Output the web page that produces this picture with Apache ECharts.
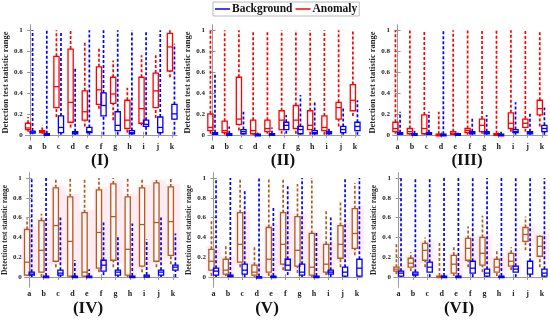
<!DOCTYPE html>
<html><head><meta charset="utf-8">
<script src="https://cdn.jsdelivr.net/npm/echarts@6/dist/echarts.min.js"></script>
<style>html,body{margin:0;padding:0;background:#fff}#c{width:550px;height:321px}</style>
</head><body><div id="c"></div>
<script>
const categories = ['a','b','c','d','e','f','g','h','i','j','k'];
const yTickValues = [0, 0.2, 0.4, 0.6, 0.8, 1];
const panelTitles = ['(I)','(II)','(III)','(IV)','(V)','(VI)'];
// each entry: [min, q1, median, q3, max]
const anomalyI = [[0.03,0.05,0.065,0.11,0.17],[0.01,0.02,0.03,0.04,0.09],[0.17,0.26,0.46,0.75,1.0],[0.07,0.12,0.31,0.82,1.0],[0.08,0.14,0.22,0.42,0.89],[0.25,0.29,0.43,0.65,0.84],[0.14,0.30,0.39,0.55,0.71],[0.02,0.06,0.14,0.33,0.45],[0.09,0.11,0.25,0.55,0.76],[0.16,0.26,0.42,0.59,0.76],[0.55,0.61,0.84,0.97,1.0]];
const backgroundI = [[0.005,0.015,0.025,0.035,1.0],[0,0.005,0.007,0.01,1.0],[0,0.02,0.07,0.18,0.98],[0,0.01,0.02,0.03,0.64],[0,0.02,0.03,0.07,1.0],[0,0.18,0.28,0.40,1.0],[0,0.04,0.09,0.22,1.0],[0,0.01,0.02,0.04,1.0],[0,0.08,0.10,0.14,1.0],[0,0.02,0.07,0.17,1.0],[0,0.15,0.20,0.29,0.87]];
const anomalyII = [[0.01,0.04,0.07,0.20,1.0],[0,0.02,0.04,0.13,1.0],[0.04,0.10,0.15,0.55,1.0],[0,0.01,0.04,0.14,1.0],[0.01,0.03,0.06,0.14,1.0],[0.01,0.05,0.14,0.23,1.0],[0.01,0.06,0.14,0.28,1.0],[0,0.05,0.09,0.23,1.0],[0,0.04,0.07,0.18,1.0],[0.08,0.15,0.26,0.31,1.0],[0.18,0.23,0.33,0.48,1.0]];
const backgroundII = [[0,0.005,0.01,0.02,0.58],[0,0,0.005,0.01,0.08],[0,0.01,0.03,0.05,0.22],[0,0,0.002,0.005,0.02],[0,0,0.005,0.01,0.07],[0.01,0.05,0.09,0.12,0.19],[0,0.01,0.05,0.08,0.38],[0,0.01,0.02,0.04,0.31],[0,0.01,0.02,0.03,0.07],[0,0.02,0.05,0.08,0.26],[0,0.04,0.08,0.12,0.33]];
const anomalyIII = [[0.01,0.03,0.06,0.12,1.0],[0,0.01,0.03,0.06,1.0],[0,0.01,0.06,0.19,1.0],[0,0,0.002,0.005,0.22],[0,0.005,0.015,0.03,1.0],[0,0.02,0.04,0.06,1.0],[0.01,0.03,0.09,0.15,1.0],[0,0,0.005,0.01,1.0],[0.03,0.06,0.11,0.21,1.0],[0.03,0.07,0.11,0.15,1.0],[0.08,0.19,0.25,0.33,1.0]];
const backgroundIII = [[0,0.005,0.01,0.02,0.22],[0,0,0.005,0.01,0.06],[0,0.005,0.01,0.02,0.22],[0,0,0.002,0.005,1.0],[0,0,0.005,0.01,0.02],[0,0.01,0.02,0.03,0.17],[0,0.01,0.02,0.03,0.19],[0,0,0.002,0.005,0.03],[0,0.02,0.03,0.05,0.31],[0,0.01,0.02,0.03,0.20],[0,0.03,0.06,0.09,0.26]];
const anomalyIV = [[0.01,0.02,0.15,0.48,0.59],[0,0.05,0.27,0.57,0.64],[0.10,0.16,0.52,0.90,1.0],[0,0.01,0.36,0.81,1.0],[0,0.01,0.05,0.65,1.0],[0.05,0.09,0.45,0.88,1.0],[0.10,0.17,0.61,0.94,1.0],[0,0.02,0.28,0.81,1.0],[0.05,0.11,0.53,0.90,1.0],[0.10,0.16,0.55,0.95,1.0],[0.13,0.22,0.56,0.91,1.0]];
const backgroundIV = [[0,0.02,0.03,0.05,1.0],[0,0,0.005,0.01,1.0],[0,0.02,0.04,0.07,0.60],[0,0,0.005,0.01,0.17],[0,0,0.005,0.01,0.08],[0.02,0.06,0.12,0.17,0.55],[0,0.02,0.05,0.07,0.41],[0,0,0.005,0.01,0.54],[0,0,0.01,0.02,0.38],[0,0.02,0.05,0.07,0.60],[0,0.07,0.10,0.12,0.44]];
const anomalyV = [[0.01,0.07,0.16,0.28,0.58],[0.01,0.03,0.07,0.18,0.33],[0.10,0.15,0.33,0.65,1.0],[0,0.02,0.05,0.12,0.31],[0.01,0.05,0.18,0.50,1.0],[0.07,0.13,0.33,0.65,1.0],[0.04,0.11,0.27,0.61,0.94],[0,0.02,0.10,0.44,1.0],[0.02,0.05,0.13,0.33,0.68],[0.10,0.19,0.33,0.52,0.77],[0.22,0.29,0.44,0.69,0.95]];
const backgroundV = [[0,0.02,0.06,0.09,1.0],[0,0.01,0.015,0.02,1.0],[0,0.03,0.07,0.13,0.88],[0,0,0.002,0.005,1.0],[0,0,0.005,0.01,0.70],[0.02,0.07,0.12,0.18,0.92],[0,0.02,0.05,0.13,1.0],[0,0,0.005,0.01,0.46],[0,0.03,0.05,0.07,0.60],[0,0.01,0.05,0.10,1.0],[0,0.01,0.09,0.18,1.0]];
const anomalyVI = [[0.03,0.06,0.08,0.10,0.35],[0.06,0.10,0.14,0.19,0.25],[0.10,0.17,0.27,0.34,0.40],[0,0,0.005,0.01,0.35],[0.01,0.04,0.13,0.22,0.32],[0.10,0.17,0.29,0.39,0.51],[0.05,0.12,0.24,0.40,0.62],[0.01,0.05,0.10,0.18,0.27],[0.07,0.11,0.16,0.24,0.30],[0.27,0.36,0.43,0.50,0.61],[0.10,0.21,0.31,0.41,0.42]];
const backgroundVI = [[0,0.01,0.04,0.06,1.0],[0,0.02,0.03,0.05,1.0],[0,0.05,0.10,0.15,1.0],[0,0,0.005,0.01,1.0],[0,0,0.005,0.01,1.0],[0,0.04,0.09,0.16,1.0],[0,0.01,0.04,0.08,1.0],[0,0,0.005,0.01,1.0],[0,0.05,0.08,0.11,1.0],[0,0.03,0.09,0.16,1.0],[0,0.01,0.04,0.08,1.0]];

const anomalies = [anomalyI, anomalyII, anomalyIII, anomalyIV, anomalyV, anomalyVI];
const backgrounds = [backgroundI, backgroundII, backgroundIII, backgroundIV, backgroundV, backgroundVI];

const grids = [
  {left:24, top:25, width:153, height:115},
  {left:208, top:25, width:152, height:115},
  {left:393, top:25, width:154, height:115},
  {left:24, top:173, width:154, height:114},
  {left:209, top:173, width:153, height:114},
  {left:394, top:173, width:153, height:114}
];
const titlePos = [[100,161],[283,161],[467,161],[88,309],[267,309],[459,309]];
const serif = '"Liberation Serif","Times New Roman",serif';
const frameColor = '#999';
const xVals = categories.map((c,i)=>i);

const xAxes = [], yAxes = [], series = [], graphics = [];
grids.forEach((g, gi) => {
  const bottomRow = gi >= 3;
  const ymin = bottomRow ? -0.1 : -0.05;
  xAxes.push({type:'value', gridIndex:gi, min:-0.32, max:10.35, position:'bottom',
    axisLine:{show:true, lineStyle:{color:frameColor, width:1}},
    axisTick:{show:true, inside:true, length:3, customValues:xVals, lineStyle:{color:frameColor}},
    axisLabel:{customValues:xVals, formatter:v=>categories[Math.round(v)], fontFamily:serif, fontWeight:'bold', fontSize:8, color:'#222', margin:3},
    splitLine:{show:false}});
  xAxes.push({type:'value', gridIndex:gi, min:-0.32, max:10.35, position:'top',
    axisLine:{show:true, lineStyle:{color:frameColor, width:1}},
    axisTick:{show:true, inside:true, length:3, customValues:xVals, lineStyle:{color:frameColor}},
    axisLabel:{show:false}, splitLine:{show:false}});
  yAxes.push({type:'value', gridIndex:gi, min:ymin, max:1.05, position:'left',
    name:'Detection test statistic range', nameLocation:'middle', nameGap:14, nameRotate:90,
    nameTextStyle:{fontFamily:serif, fontWeight:'bold', fontSize: bottomRow ? 7.5 : 8.5, color:'#222'},
    axisLine:{show:true, lineStyle:{color:frameColor, width:1}},
    axisTick:{show:true, inside:true, length:3, customValues:yTickValues, lineStyle:{color:frameColor}},
    axisLabel:{customValues:yTickValues, formatter:v=>String(Math.round(v*10)/10), fontFamily:serif, fontWeight:'bold', fontSize:7, color:'#222', margin:3},
    splitLine:{show:false}});
  yAxes.push({type:'value', gridIndex:gi, min:ymin, max:1.05, position:'right',
    axisLine:{show:true, lineStyle:{color:frameColor, width:1}},
    axisTick:{show:true, inside:true, length:3, customValues:yTickValues, lineStyle:{color:frameColor}},
    axisLabel:{show:false}, splitLine:{show:false}});

  const xi = gi*2, yi = gi*2;
  const aData = anomalies[gi].map((r,i)=>[i].concat(r));
  const bData = backgrounds[gi].map((r,i)=>[i].concat(r));

  if (bottomRow) {
    series.push({type:'custom', name:'pink'+gi, xAxisIndex:xi, yAxisIndex:yi, data:aData, z:1, silent:true,
      encode:{x:0, y:[1,2,3,4,5]},
      renderItem:(params, api)=>{
        const x = api.value(0);
        const p1 = api.coord([x-0.5, api.value(4)+0.03]);
        const p2 = api.coord([x+0.5, Math.max(api.value(2)-0.03, 0)]);
        return {type:'rect', shape:{x:p1[0], y:p1[1], width:p2[0]-p1[0], height:p2[1]-p1[1]},
          style:{fill:'rgba(255,200,220,0.26)', shadowBlur:6, shadowColor:'rgba(255,200,220,0.5)'}};
      }});
  }
  const makeBox = (offset, color, fill) => (params, api) => {
    const x = api.value(0) + offset;
    const mn = api.value(1), q1 = api.value(2), md = api.value(3), q3 = api.value(4), mx = api.value(5);
    const cx = api.coord([x, md])[0];
    const y = v => api.coord([x, v])[1];
    const hw = 2.6;
    const dash = {stroke:color, lineWidth:1.7, lineDash:[3,2]};
    const solid = {stroke:color, lineWidth:1.3};
    const hgt = Math.max(y(q1) - y(q3), 1.5);
    return {type:'group', children:[
      {type:'line', shape:{x1:cx, y1:y(q3), x2:cx, y2:y(mx)}, style:dash},
      {type:'line', shape:{x1:cx, y1:y(mn), x2:cx, y2:y(q1)}, style:dash},
      {type:'rect', shape:{x:cx-hw, y:y(q3), width:hw*2, height:hgt}, style:{fill:fill, stroke:color, lineWidth:1.3}},
      {type:'line', shape:{x1:cx-hw, y1:y(md), x2:cx+hw, y2:y(md)}, style:solid}
    ]};
  };
  const aColor = bottomRow ? '#b35a1f' : '#ff0000';
  const aFill = bottomRow ? 'rgba(255,248,248,0.9)' : 'rgba(255,255,255,0)';
  series.push({type:'custom', name:'Anomaly', xAxisIndex:xi, yAxisIndex:yi, data:aData, z:3,
    itemStyle:{color:aColor}, encode:{x:0, y:[1,2,3,4,5]}, renderItem:makeBox(-0.15, aColor, aFill)});
  series.push({type:'custom', name:'Background', xAxisIndex:xi, yAxisIndex:yi, data:bData, z:4,
    itemStyle:{color:'#0000ff'}, encode:{x:0, y:[1,2,3,4,5]}, renderItem:makeBox(0.17, '#0000ff', 'rgba(255,255,255,0)')});

  graphics.push({type:'text', x:titlePos[gi][0], y:titlePos[gi][1],
    style:{text:panelTitles[gi], fontFamily:serif, fontWeight:'bold', fontSize:17, fill:'#111', textAlign:'center', textVerticalAlign:'middle'}});
});

const chart = echarts.init(document.getElementById('c'), null, {renderer:'canvas'});
chart.setOption({
  animation:false,
  grid:grids,
  xAxis:xAxes,
  yAxis:yAxes,
  legend:{data:[{name:'Background', icon:'rect'},{name:'Anomaly', icon:'rect'}],
    left:213, top:2, itemWidth:15, itemHeight:1.5, itemGap:3,
    borderColor:'#bbb', borderWidth:1, padding:[1,2,1,2], backgroundColor:'#fff',
    textStyle:{fontFamily:serif, fontWeight:'bold', fontSize:11.5, color:'#111', padding:[0,0,0,-3]}},
  graphic:graphics,
  series:series
});
</script></body></html>
